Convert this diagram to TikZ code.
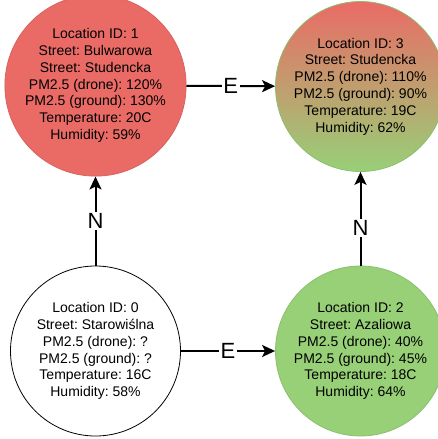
\documentclass[tikz,border=0pt]{standalone}
\usepackage{fontspec}
\setmainfont{Liberation Sans}
\usetikzlibrary{arrows.meta,positioning}
\definecolor{hotred}{HTML}{EA6B66}
\definecolor{okgreen}{HTML}{97D077}
\frenchspacing

\tikzset{
    location/.style={circle, minimum size=170pt, inner sep=0pt, line width=0.8pt, align=center, font=\fontsize{14}{16.8}\selectfont},
    link/.style={-{Stealth[length=13pt,width=12pt,inset=3pt]}, line width=2pt},
    dirlabel/.style={fill=white, inner sep=1.5pt, font=\fontsize{22}{22}\selectfont},
}

\begin{document}
\begin{tikzpicture}[x=1pt, y=-1pt]
    \useasboundingbox (0,0) rectangle (437,439);
    \node[location, fill=hotred, draw=hotred!92!black] (loc1) at (95.5,85.5) {Location ID: 1\\Street: Bulwarowa\\Street: Studencka\\PM2.5 (drone): 120\%\\PM2.5 (ground): 130\%\\Temperature: 20C\\Humidity: 59\%};
    \node[location, top color=hotred, bottom color=okgreen, draw=okgreen!92!black] (loc3) at (360.5,86.5) {Location ID: 3\\Street: Studencka\\PM2.5 (drone): 110\%\\PM2.5 (ground): 90\%\\Temperature: 19C\\Humidity: 62\%};
    \node[location, fill=white, draw=black] (loc0) at (95.5,351) {Location ID: 0\\Street: Starowiślna\\PM2.5 (drone): ?\\PM2.5 (ground): ?\\Temperature: 16C\\Humidity: 58\%};
    \node[location, fill=okgreen, draw=okgreen!92!black] (loc2) at (360.5,351) {Location ID: 2\\Street: Azaliowa\\PM2.5 (drone): 40\%\\PM2.5 (ground): 45\%\\Temperature: 18C\\Humidity: 64\%};

    \draw[link] (loc1) -- node[dirlabel] {E} (loc3);
    \draw[link] (loc0) -- node[dirlabel] {E} (loc2);
    \draw[link] (loc0) -- node[dirlabel] {N} (loc1);
    \draw[link] (loc2) -- node[dirlabel, pos=0.4] {N} (loc3);
\end{tikzpicture}
\end{document}
